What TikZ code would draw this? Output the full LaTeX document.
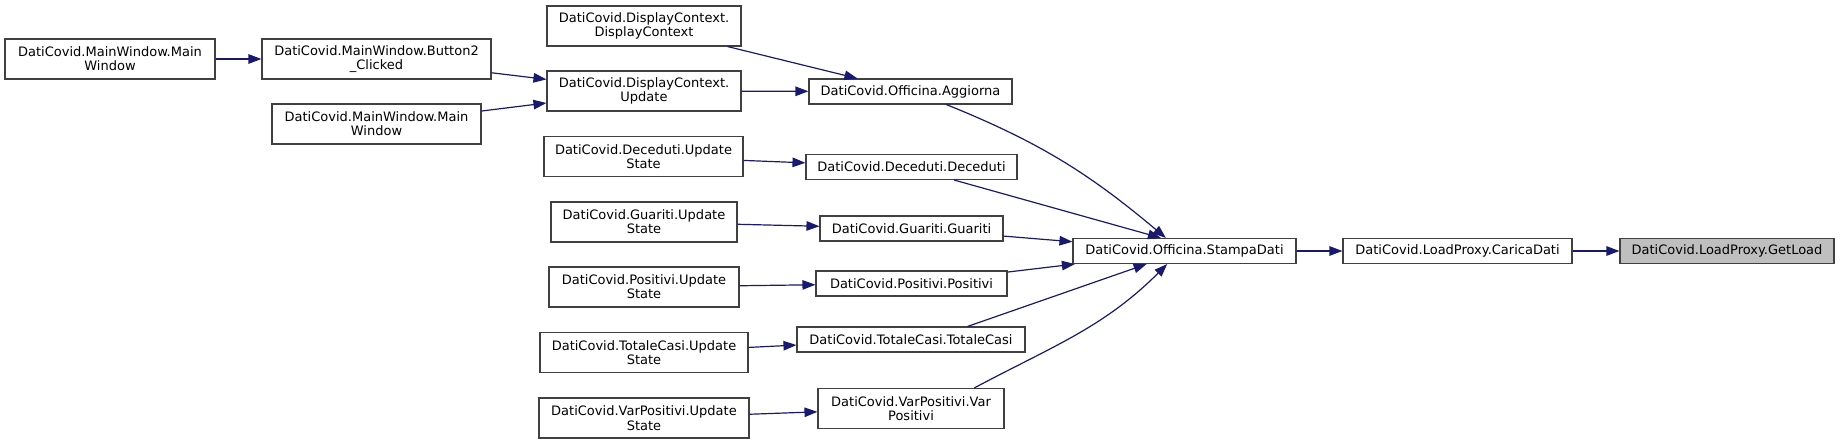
\documentclass[tikz,border=0pt]{standalone}
\usepackage{fontspec}
\setmainfont{DejaVu Sans}
\usetikzlibrary{arrows.meta}
\definecolor{edgeblue}{HTML}{191970}
\definecolor{boxborder}{HTML}{404040}
\definecolor{hilite}{HTML}{BFBFBF}
\tikzset{
  fn/.style={draw=boxborder, line width=1.1pt, fill=white, inner sep=0pt, align=center,
    font=\fontsize{13}{14.3}\selectfont, text=black},
  two/.style={minimum height=40pt},
  one/.style={minimum height=25pt},
  call/.style={draw=edgeblue, line width=1.2pt, -{Triangle[length=13pt,width=9.5pt]}, color=edgeblue},
}
\begin{document}
\begin{tikzpicture}[x=1pt, y=-1pt]
\useasboundingbox (0,0) rectangle (1840,444);

\node[fn,two,minimum width=210pt] (mw1) at (110,59) {DatiCovid.MainWindow.Main\\Window};
\node[fn,two,minimum width=229pt] (btn) at (376.5,59) {DatiCovid.MainWindow.Button2\\\_Clicked};
\node[fn,two,minimum width=209pt] (mw2) at (376.5,124) {DatiCovid.MainWindow.Main\\Window};

\node[fn,two,minimum width=194pt] (dcdc) at (644,26) {DatiCovid.DisplayContext.\\DisplayContext};
\node[fn,two,minimum width=194pt] (dcu) at (644,91) {DatiCovid.DisplayContext.\\Update};
\node[fn,two,minimum width=199pt] (decu) at (643.5,156.5) {DatiCovid.Deceduti.Update\\State};
\node[fn,two,minimum width=186pt] (guau) at (644,222) {DatiCovid.Guariti.Update\\State};
\node[fn,two,minimum width=190pt] (posu) at (644,287) {DatiCovid.Positivi.Update\\State};
\node[fn,two,minimum width=208pt] (totu) at (644,352.5) {DatiCovid.TotaleCasi.Update\\State};
\node[fn,two,minimum width=210pt] (varu) at (644,418) {DatiCovid.VarPositivi.Update\\State};

\node[fn,one,minimum width=203pt] (agg) at (910.5,91.5) {DatiCovid.Officina.Aggiorna};
\node[fn,one,minimum width=211pt] (dec) at (911.5,167) {DatiCovid.Deceduti.Deceduti};
\node[fn,one,minimum width=183pt] (gua) at (911.5,228.5) {DatiCovid.Guariti.Guariti};
\node[fn,one,minimum width=191pt] (pos) at (911.5,283.5) {DatiCovid.Positivi.Positivi};
\node[fn,one,minimum width=228pt] (tot) at (911,339.5) {DatiCovid.TotaleCasi.TotaleCasi};
\node[fn,two,minimum width=186pt] (var) at (911,408.5) {DatiCovid.VarPositivi.Var\\Positivi};

\node[fn,one,minimum width=223pt] (stamp) at (1184.5,251) {DatiCovid.Officina.StampaDati};
\node[fn,one,minimum width=229pt] (car) at (1457.5,251) {DatiCovid.LoadProxy.CaricaDati};
\node[fn,one,minimum width=214pt,fill=hilite] (get) at (1727,251) {DatiCovid.LoadProxy.GetLoad};

\draw[call] (mw1) -- (btn);
\draw[call] (btn) -- (dcu);
\draw[call] (mw2) -- (dcu);
\draw[call] (dcdc) -- (agg);
\draw[call] (dcu) -- (agg);
\draw[call] (decu) -- (dec);
\draw[call] (guau) -- (gua);
\draw[call] (posu) -- (pos);
\draw[call] (totu) -- (tot);
\draw[call] (varu) -- (var);

\draw[call] (agg.-20) to[out=-22, in=140] (stamp.145);
\draw[call] (dec.-17) -- (stamp.151);
\draw[call] (gua) -- (stamp);
\draw[call] (pos) -- (stamp);
\draw[call] (tot.13) -- (stamp.-161);
\draw[call] (var.18) to[out=28, in=225] (stamp.-143);

\draw[call] (stamp) -- (car);
\draw[call] (car) -- (get);
\end{tikzpicture}
\end{document}
